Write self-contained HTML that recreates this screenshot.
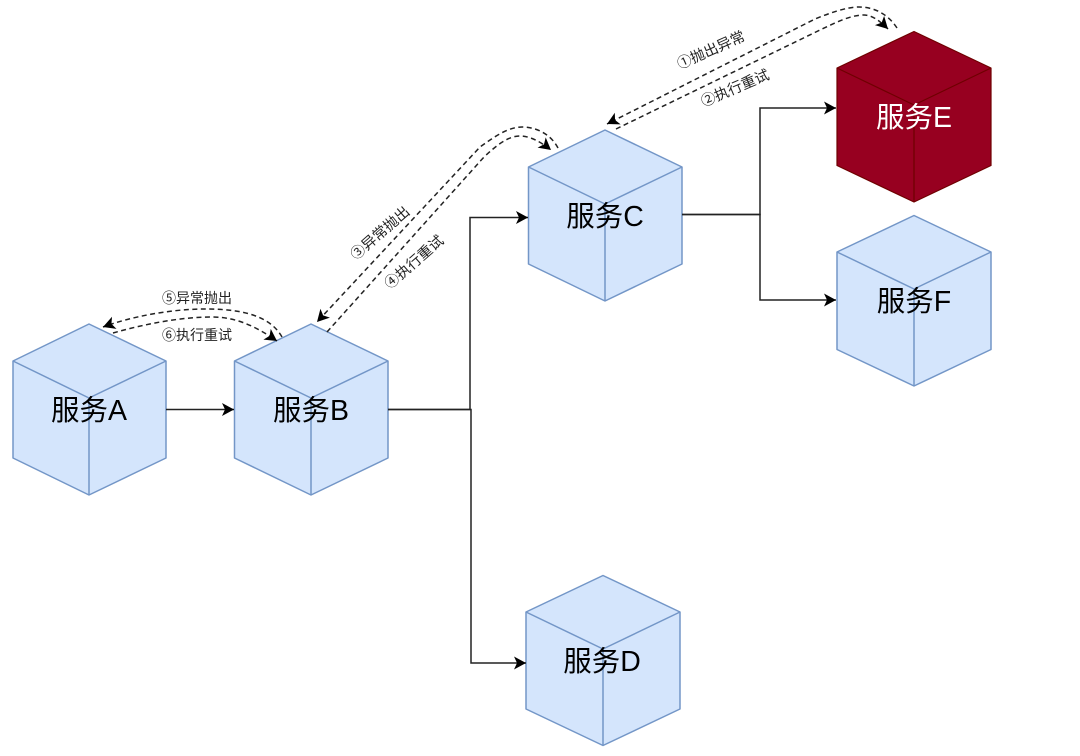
<!DOCTYPE html>
<html>
<head>
<meta charset="utf-8">
<style>
html,body{margin:0;padding:0;background:#fff;width:1080px;height:756px;overflow:hidden}
svg{display:block;filter:blur(.35px)}
text{font-family:"Liberation Sans","Noto Sans CJK SC",sans-serif;text-anchor:middle}
.m{font-size:28.500px;fill:#000}
.s{font-family:"Noto Sans CJK SC","Liberation Sans",sans-serif;font-size:14px;fill:#222}
.r{font-size:14.500px}
.c{fill:#d4e5fc;stroke:#7396c7;stroke-width:1.5;stroke-linejoin:round}
.e{fill:#970020;stroke:#6f0000;stroke-width:1.2;stroke-linejoin:round}
.l{fill:none;stroke:#222;stroke-width:1.5}
.d{fill:none;stroke:#222;stroke-width:1.5;stroke-dasharray:5 3.500}
</style>
</head>
<body>
<svg width="1080" height="756" viewBox="0 0 1080 756" xmlns="http://www.w3.org/2000/svg">
<defs>
<marker id="a" markerUnits="userSpaceOnUse" markerWidth="16" markerHeight="16" refX="12" refY="7" orient="auto">
<path d="M0 0.500L12 7L0 13.500L3 7Z" fill="#000"/>
</marker>
</defs>

<!-- A -->
<g class="c">
<path d="M89 324L166 361V458L89 495L13 458V361Z"/>
<path d="M13 361L89 398L166 361M89 398V495" fill="none"/>
</g>
<!-- B -->
<g class="c">
<path d="M311 324L388 361V458L311 495L234.500 458V361Z"/>
<path d="M234.500 361L311 398L388 361M311 398V495" fill="none"/>
</g>
<!-- C -->
<g class="c">
<path d="M605 130L682 167V264L605 301L528.500 264V167Z"/>
<path d="M528.500 167L605 204L682 167M605 204V301" fill="none"/>
</g>
<!-- D -->
<g class="c">
<path d="M603 575.500L680 612V709L603 745.500L526 709V612Z"/>
<path d="M526 612L603 649L680 612M603 649V745.500" fill="none"/>
</g>
<!-- E -->
<g class="e">
<path d="M914 31.500L991 68V165.500L914 202L837 165.500V68Z"/>
<path d="M837 68L914 105L991 68M914 105V202" fill="none"/>
</g>
<!-- F -->
<g class="c">
<path d="M914 215.500L991 252V349.500L914 386L837 349.500V252Z"/>
<path d="M837 252L914 289L991 252M914 289V386" fill="none"/>
</g>

<!-- solid connectors -->
<path class="l" d="M166 409.500H234" marker-end="url(#a)"/>
<path class="l" d="M388 409.500H470V217.500H528" marker-end="url(#a)"/>
<path class="l" d="M388 409.500H471V663H526" marker-end="url(#a)"/>
<path class="l" d="M682 214.500H760V108H836" marker-end="url(#a)"/>
<path class="l" d="M682 214.500H760V300H836" marker-end="url(#a)"/>

<!-- dashed curves -->
<path class="d" d="M282 337C268 312 232 309 205 309C170 309 130 317 103 327" marker-end="url(#a)"/>
<path class="d" d="M113 333C145 324 180 317 212 317C238 317 258 328 277 341" marker-end="url(#a)"/>
<path class="d" d="M558 148C550 133 535 127 522 127C508 127 494 137 480 147L317 322" marker-end="url(#a)"/>
<path class="d" d="M327 332L484 157C497 145 508 136 520 136C530 136 541 142 551 150" marker-end="url(#a)"/>
<path class="d" d="M897 28C888 14 874 7 859 7C846 7 830 13 815 19L607 124" marker-end="url(#a)"/>
<path class="d" d="M616 129L820 30C835 23 850 15 864 15C872 15 880 21 888 29" marker-end="url(#a)"/>

<!-- labels -->
<text class="m" x="89" y="420">服务A</text>
<text class="m" x="311" y="420">服务B</text>
<text class="m" x="605" y="226">服务C</text>
<text class="m" x="602" y="671">服务D</text>
<text class="m" x="914" y="127" style="fill:#fff">服务E</text>
<text class="m" x="914" y="311">服务F</text>

<text class="s" x="197" y="303">⑤异常抛出</text>
<text class="s" x="197" y="340">⑥执行重试</text>
<text class="s r" y="5" transform="translate(380 233) rotate(-41)">③异常抛出</text>
<text class="s r" y="5" transform="translate(414 262) rotate(-41)">④执行重试</text>
<text class="s r" y="5" transform="translate(711 50) rotate(-24)">①抛出异常</text>
<text class="s r" y="5" transform="translate(735 88) rotate(-23)">②执行重试</text>
</svg>
</body>
</html>
